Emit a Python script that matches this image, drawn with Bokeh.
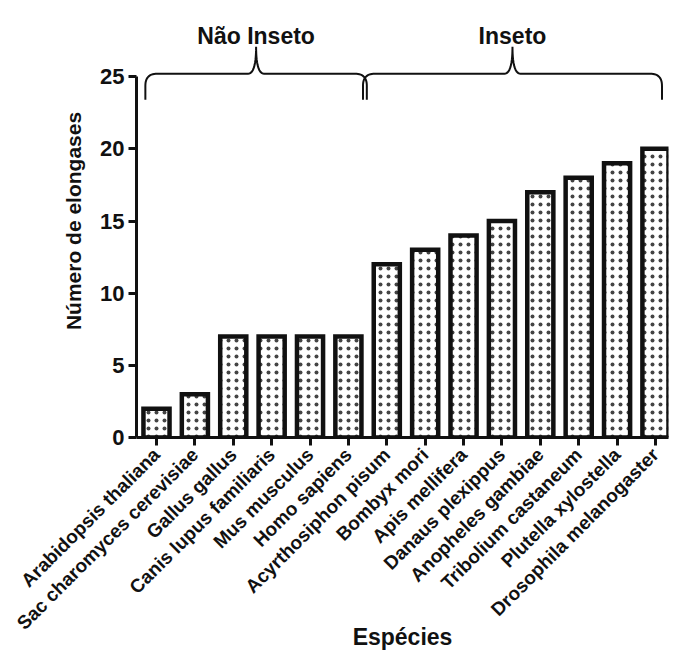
from math import pi

from bokeh.core.properties import value
from bokeh.embed import file_html
from bokeh.models import ColumnDataSource, FixedTicker, Range1d
from bokeh.plotting import figure
from bokeh.resources import INLINE

# ---- data -------------------------------------------------------------
species = [
    "Arabidopsis thaliana",
    "Sac charomyces cerevisiae",
    "Gallus gallus",
    "Canis lupus familiaris",
    "Mus musculus",
    "Homo sapiens",
    "Acyrthosiphon pisum",
    "Bombyx mori",
    "Apis mellifera",
    "Danaus plexippus",
    "Anopheles gambiae",
    "Tribolium castaneum",
    "Plutella xylostella",
    "Drosophila melanogaster",
]
elongases = [2, 3, 7, 7, 7, 7, 12, 13, 14, 15, 17, 18, 19, 20]
y_ticks = [0, 5, 10, 15, 20, 25]

groups = ["Não Inseto", "Inseto"]
group_first = [0, 6]
group_last = [5, 13]

FONT = "Liberation Sans"
BLACK = "#111111"

# ---- figure -----------------------------------------------------------
p = figure(
    width=673, height=653,
    output_backend="svg", toolbar_location=None,
    x_range=Range1d(-0.521, 13.34), y_range=Range1d(0, 30),
    min_border_left=136, min_border_right=5,
    min_border_top=4, min_border_bottom=216,
)
p.outline_line_color = None
p.grid.grid_line_color = None
p.background_fill_color = "white"
p.border_fill_color = "white"

# pixel -> data unit helpers for the decorations
XPX = 1 / 38.38
YPX = 1 / 14.43

src = ColumnDataSource(dict(x=list(range(len(species))), top=elongases))
p.vbar(
    x="x", top="top", bottom=0, width=0.68, source=src,
    fill_color="white", line_color=BLACK, line_width=4.5, line_join="miter",
    hatch_pattern="dot", hatch_color="#444444", hatch_scale=8, hatch_weight=1.5,
)

# ---- axes -------------------------------------------------------------
xa = p.xaxis[0]
xa.ticker = FixedTicker(ticks=list(range(len(species))))
xa.major_label_overrides = {i: s for i, s in enumerate(species)}
xa.major_label_orientation = pi / 4
xa.major_label_text_font = FONT
xa.major_label_text_font_style = "bold"
xa.major_label_text_font_size = "19px"
xa.major_label_text_color = BLACK
xa.major_label_standoff = 6
xa.axis_line_width = 3
xa.axis_line_color = BLACK
xa.major_tick_line_width = 3
xa.major_tick_line_color = BLACK
xa.major_tick_out = 8
xa.major_tick_in = 0
xa.minor_tick_line_color = None
xa.axis_label = "Espécies"
xa.axis_label_text_font = FONT
xa.axis_label_text_font_style = "bold"
xa.axis_label_text_font_size = "23px"
xa.axis_label_text_color = BLACK
xa.axis_label_standoff = -20

ya = p.yaxis[0]
ya.ticker = FixedTicker(ticks=y_ticks)
ya.bounds = (0, 25)
ya.major_label_text_font = FONT
ya.major_label_text_font_style = "bold"
ya.major_label_text_font_size = "22px"
ya.major_label_text_color = BLACK
ya.major_label_standoff = 4
ya.axis_line_width = 3
ya.axis_line_color = BLACK
ya.major_tick_line_width = 3
ya.major_tick_line_color = BLACK
ya.major_tick_out = 8
ya.major_tick_in = 0
ya.minor_tick_line_color = None
ya.axis_label = "Número de elongases"
ya.axis_label_text_font = FONT
ya.axis_label_text_font_style = "bold"
ya.axis_label_text_font_size = "21px"
ya.axis_label_text_color = BLACK
ya.axis_label_standoff = 12


# ---- group braces -----------------------------------------------------
def quad(p0, c, p1, n=14):
    pts = []
    for k in range(n + 1):
        t = k / n
        x = (1 - t) ** 2 * p0[0] + 2 * (1 - t) * t * c[0] + t ** 2 * p1[0]
        y = (1 - t) ** 2 * p0[1] + 2 * (1 - t) * t * c[1] + t ** 2 * p1[1]
        pts.append((x, y))
    return pts


def brace(x_a, x_b):
    x_c = (x_a + x_b) / 2
    y_mid = 25 + 3 * YPX
    y_low = y_mid - 26 * YPX
    y_tip = y_mid + 27 * YPX
    rx, ry, tx = 12 * XPX, 12 * YPX, 8 * XPX
    pts = [(x_a, y_low)]
    pts += quad((x_a, y_mid - ry), (x_a, y_mid), (x_a + rx, y_mid))
    pts += quad((x_c - tx, y_mid), (x_c, y_mid), (x_c, y_tip))
    pts += quad((x_c, y_tip), (x_c, y_mid), (x_c + tx, y_mid))
    pts += quad((x_b - rx, y_mid), (x_b, y_mid), (x_b, y_mid - ry))
    pts.append((x_b, y_low))
    return [q[0] for q in pts], [q[1] for q in pts], x_c


brace_pad_left = [0.29, 0.62]
brace_pad_right = [0.48, 0.17]
bx, by, cx = [], [], []
for g in range(len(groups)):
    xs, ys, xc = brace(group_first[g] - brace_pad_left[g],
                       group_last[g] + brace_pad_right[g])
    bx.append(xs)
    by.append(ys)
    cx.append(xc)

p.multi_line(bx, by, line_color=BLACK, line_width=2)
p.text(
    x=cx, y=[25 + 41 * YPX] * len(groups), text=groups,
    text_align="center", text_baseline="alphabetic",
    text_font=value(FONT), text_font_style="bold", text_font_size="23px",
    text_color=BLACK,
)

open("out.html", "w").write(file_html(p, INLINE))
